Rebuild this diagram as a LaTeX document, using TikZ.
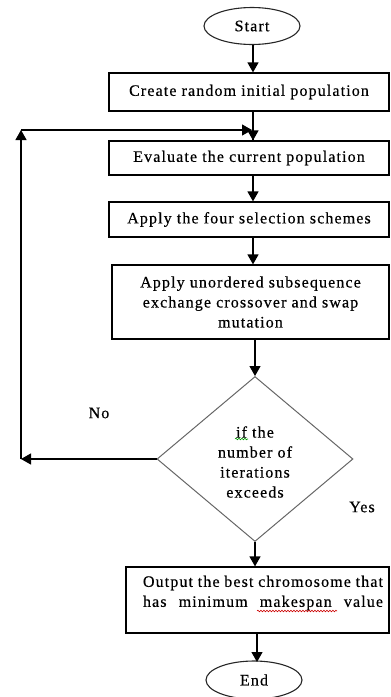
\documentclass[tikz,border=0pt]{standalone}
\usepackage{fontspec}
\setmainfont{Liberation Serif}[LetterSpace=7,FakeBold=0.4]
\usetikzlibrary{shapes.geometric,arrows.meta,decorations.pathmorphing}
\begin{document}
\begin{tikzpicture}[x=1pt,y=-1pt,
  every node/.style={font=\fontsize{16}{20}\selectfont},
  procbox/.style={draw=black,line width=1.2pt,rectangle,inner sep=0pt},
  term/.style={draw=black!85,line width=1.1pt,ellipse,inner sep=0pt,minimum width=96pt,minimum height=37pt},
  decide/.style={draw=black!60,line width=1pt,diamond,inner sep=0pt,minimum width=196pt,minimum height=165pt},
  flow/.style={draw=black,line width=1.2pt,-{Triangle[length=10pt,width=11pt]}},
  plain/.style={draw=black,line width=1.2pt},
  lbl/.style={inner sep=0pt}
]
\useasboundingbox (0,0) rectangle (391,697);
\coordinate (spine) at (253,0);
\node[term] (start) at (252,26) {Start};
\node[procbox,minimum width=280pt,minimum height=38pt] (box1) at (249,92) {Create random initial population};
\node[procbox,minimum width=280pt,minimum height=34pt] (box2) at (249,158) {Evaluate the current population};
\node[procbox,minimum width=280pt,minimum height=35pt] (box3) at (249,219.5) {Apply the four selection schemes};
\node[procbox,minimum width=277pt,minimum height=74pt,align=center] (box4) at (250.5,302) {Apply unordered subsequence\\exchange crossover and swap\\mutation};
\node[decide] (dec) at (255,459) {};
\node[lbl,align=center] (dtext) at (255,462) {if the\\number of\\iterations\\exceeds};
\node[procbox,minimum width=263pt,minimum height=66pt] (box5) at (257.5,600) {};
\node[lbl,align=center] (btext) at (263,593) {\makebox[240pt][s]{Output the best chromosome that}\\\makebox[240pt][s]{has minimum makespan value}};
\node[term,minimum height=38pt] (end) at (254,680) {End};
\node[lbl] (no) at (99,413) {No};
\node[lbl] (yes) at (362,507) {Yes};
\coordinate (loopL) at (21,459);
\coordinate (loopT) at (21,130);
\coordinate (loopR) at (252,130);
% main spine
\draw[flow] (spine |- start.south) -- (spine |- box1.north);
\draw[plain] (spine |- box1.south) -- (spine |- box2.north);
\draw[flow] (spine |- loopR) -- (spine |- box2.north);
\draw[flow] (spine |- box2.south) -- (spine |- box3.north);
\draw[flow] (spine |- box3.south) -- (spine |- box4.north);
\draw[flow] (dec.north |- box4.south) -- (dec.north);
\draw[flow] (dec.south) -- (dec.south |- box5.north);
\draw[flow] (257,633) -- (257,662);
% feedback loop
\draw[flow] (dec.west) -- (loopL);
\draw[flow] (loopL) -- (loopT);
\draw[flow] (loopT) -- (loopR);
% spell-check squiggles
\draw[green!60!black,line width=0.6pt,decorate,decoration={snake,amplitude=0.8pt,segment length=3pt}] (235,439) -- (248,439);
\draw[red!80!black,line width=0.6pt,decorate,decoration={snake,amplitude=0.8pt,segment length=3pt}] (257,611) -- (337,611);
\end{tikzpicture}
\end{document}
